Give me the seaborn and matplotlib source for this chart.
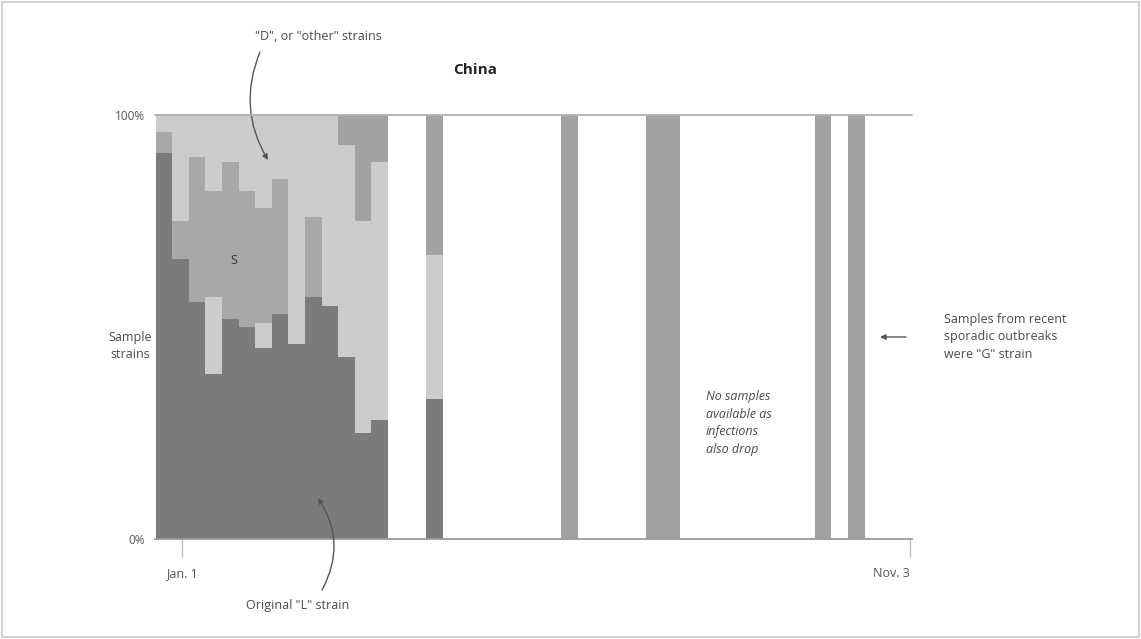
import numpy as np
import pandas as pd
import matplotlib
matplotlib.use("Agg")
import matplotlib.pyplot as plt
from matplotlib.patches import Rectangle
import seaborn as sns

# weekly samples, share of each strain (%)
week_start = ['2019-12-21', '2019-12-28', '2020-01-04', '2020-01-11', '2020-01-18',
              '2020-01-25', '2020-02-01', '2020-02-08', '2020-02-15', '2020-02-22',
              '2020-02-29', '2020-03-07', '2020-03-14', '2020-03-21', '2020-04-13',
              '2020-06-09', '2020-07-15', '2020-07-22', '2020-09-24', '2020-10-08']
share_L = [91, 66, 56, 39, 52, 50, 45, 53, 46, 57, 55, 43, 25, 28, 33, 0, 0, 0, 0, 0]
share_V = [0, 0, 0, 18, 0, 0, 6, 0, 0, 0, 0, 0, 0, 0, 0, 0, 0, 0, 0, 0]
share_S = [5, 9, 34, 25, 37, 32, 27, 32, 0, 19, 0, 0, 0, 0, 0, 0, 0, 0, 0, 0]
share_O = [4, 25, 10, 18, 11, 18, 22, 15, 54, 24, 45, 50, 50, 61, 34, 0, 0, 0, 0, 0]
share_G = [0, 0, 0, 0, 0, 0, 0, 0, 0, 0, 0, 7, 25, 11, 33, 100, 100, 100, 100, 100]

start_date = '2020-01-01'
end_date = '2020-11-03'
x_tick_labels = ['Jan. 1', 'Nov. 3']

W, H = 1141, 639

sns.set_theme(style='white')
plt.rcParams['font.family'] = ['Open Sans', 'DejaVu Sans']

# long form table, x in days since Jan. 1
t0 = pd.Timestamp(start_date)
days = [(pd.Timestamp(d) - t0).days for d in week_start]
frames = []
for name, vals in [('L', share_L), ('V', share_V), ('S', share_S), ('O', share_O), ('G', share_G)]:
    frames.append(pd.DataFrame({'day': days, 'strain': name, 'share': vals}))
df = pd.concat(frames, ignore_index=True)

# one bin per sampled week
edges = sorted(set(days) | set(d + 7 for d in days))

palette = {'L': '#7b7b7b', 'V': '#cccccc', 'S': '#a8a8a8', 'O': '#cccccc', 'G': '#a2a2a2'}

fig = plt.figure(figsize=(W / 100, H / 100), dpi=100)
fig.patch.set_facecolor('white')
ax = fig.add_axes([155 / W, 1 - 539 / H, 757 / W, 424 / H])

sns.histplot(data=df, x='day', weights='share', hue='strain',
             hue_order=['G', 'O', 'S', 'V', 'L'], multiple='stack', bins=edges,
             palette=palette, linewidth=0, alpha=1, legend=False, ax=ax)

end_day = (pd.Timestamp(end_date) - t0).days
ax.set_xlim(-11.3, 308)
ax.set_ylim(0, 100)
ax.set_xlabel('')
ax.set_ylabel('')
for s in ['top', 'right', 'left']:
    ax.spines[s].set_visible(False)
ax.spines['bottom'].set_color('#9a9a9a')
ax.spines['bottom'].set_linewidth(1.3)
ax.axhline(100, color='#b0b0b0', lw=1.3, clip_on=False, zorder=5)

ax.set_xticks([0, end_day])
ax.set_xticklabels(x_tick_labels)
ax.tick_params(axis='x', length=13, width=1, color='#c0c0c0', pad=7,
               labelsize=9, labelcolor='#555555', bottom=True)
ax.get_xticklabels()[1].set_ha('right')
ax.set_yticks([0, 100])
ax.set_yticklabels(['0%', '100%'])
ax.tick_params(axis='y', length=0, pad=7, labelsize=8.5, labelcolor='#555555')


def fx(x, y):
    return (x / W, 1 - y / H)


tc = '#4a4a4a'
fig.text(*fx(475, 70), 'China', ha='center', va='center', fontsize=11,
         fontweight='bold', color='#222222')
fig.text(*fx(318, 37), '"D", or "other" strains', ha='center', va='center',
         fontsize=9, color=tc)
fig.text(*fx(234, 260), 'S', ha='center', va='center', fontsize=9, color='#333333')
fig.text(*fx(298, 605), 'Original "L" strain', ha='center', va='center',
         fontsize=9, color=tc)
fig.text(*fx(130, 346), 'Sample\nstrains', ha='center', va='center',
         fontsize=9, color=tc, linespacing=1.3)
fig.text(*fx(706, 390), 'No samples\navailable as\ninfections\nalso drop', ha='left',
         va='top', fontsize=9, style='italic', color=tc, linespacing=1.45)
fig.text(*fx(944, 337), 'Samples from recent\nsporadic outbreaks\nwere "G" strain',
         ha='left', va='center', fontsize=9, color=tc, linespacing=1.45)

arrow = dict(arrowstyle='-|>', color='#555555', lw=1, mutation_scale=8, shrinkA=0, shrinkB=0)
ax.annotate('', xy=(268, H - 160), xycoords='figure pixels',
            xytext=(260, H - 52), textcoords='figure pixels',
            arrowprops=dict(arrow, connectionstyle='arc3,rad=0.25'))
ax.annotate('', xy=(318, H - 498), xycoords='figure pixels',
            xytext=(322, H - 590), textcoords='figure pixels',
            arrowprops=dict(arrow, connectionstyle='arc3,rad=0.3'))
ax.annotate('', xy=(880, H - 337), xycoords='figure pixels',
            xytext=(906, H - 337), textcoords='figure pixels',
            arrowprops=dict(arrow))

fig.patches.append(Rectangle((0.002, 0.003), 0.996, 0.994, transform=fig.transFigure,
                             fill=False, ec='#cccccc', lw=1.2))

fig.savefig('out.png', dpi=100, facecolor='white')
